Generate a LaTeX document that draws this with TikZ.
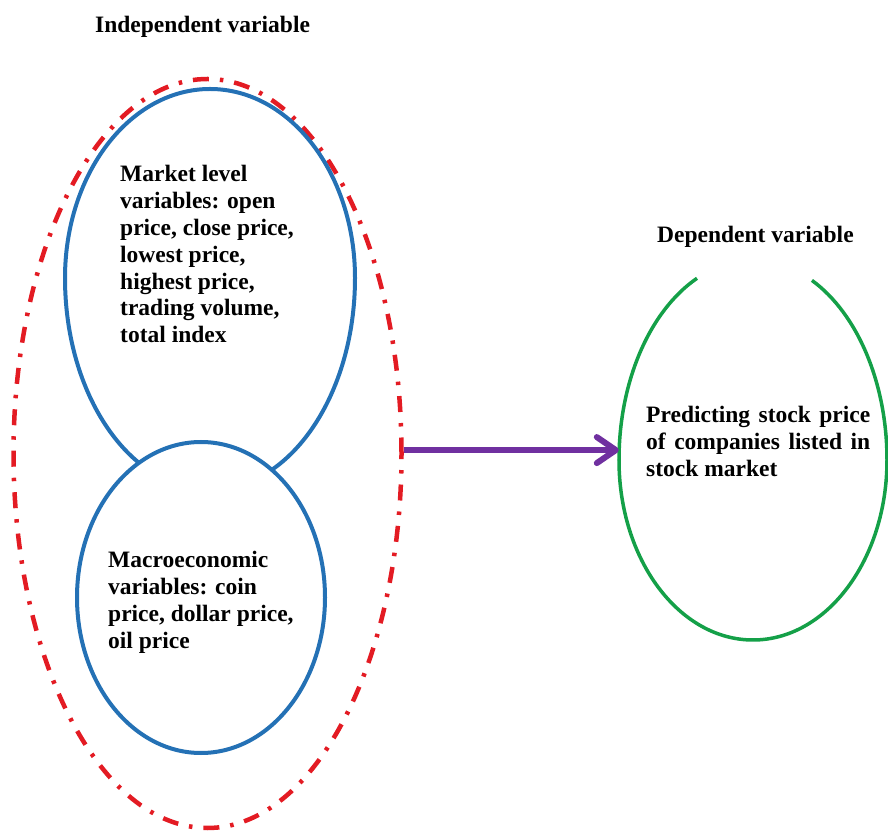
\documentclass[tikz,border=0pt]{standalone}
\usepackage{fontspec}
\setmainfont{Liberation Serif}
\usetikzlibrary{shapes.geometric,arrows.meta}
\definecolor{redc}{HTML}{E31B23}
\definecolor{bluec}{HTML}{2471B5}
\definecolor{greenc}{HTML}{14A048}
\definecolor{purplec}{HTML}{7030A0}
\begin{document}
\begin{tikzpicture}[x=1pt,y=1pt,
  lbl/.style={inner sep=0pt, anchor=base west, font=\fontsize{23.5}{26.8}\selectfont\bfseries},
  blueline/.style={draw=bluec, line width=4pt},
  greenline/.style={draw=greenc, line width=3.5pt},
  redoval/.style={ellipse, draw=redc, line width=4.5pt, dash pattern=on 16pt off 11pt on 3.5pt off 11pt, inner sep=0pt},
  arrowline/.style={draw=purplec, line width=6pt, -{Straight Barb[length=19pt,width=26pt,round]}}]
\useasboundingbox (0,0) rectangle (888,830);
% outer red dash-dot ellipse
\node[redoval, minimum width=388pt, minimum height=749pt] (indep) at (207.5,376.5) {};
% upper blue ellipse
\draw[blueline] (65,552) arc[start angle=180,end angle=0,x radius=145,y radius=189]
  arc[start angle=0,end angle=-180,x radius=145,y radius=212];
% lower blue ellipse
\node[ellipse, draw=bluec, fill=white, line width=4pt, minimum width=248pt, minimum height=311pt, inner sep=0pt] (macro) at (201,232.5) {};
% green ellipse (open at top)
\node[ellipse, minimum width=268pt, minimum height=380pt, inner sep=0pt] (dep) at (753,370) {};
\draw[greenline] (697,551.7) arc[start angle=114.7,end angle=180,x radius=134,y radius=200]
  arc[start angle=180,end angle=360,x radius=134,y radius=180]
  arc[start angle=0,end angle=63.9,x radius=134,y radius=200];
% arrow
\draw[arrowline] (indep.1) -- (indep.1 -| dep.west);
% texts
\node[lbl] (tindep) at (95,797) {Independent variable};
\node[lbl] (tdep) at (657,587) {Dependent variable};
\node[lbl] (tmarket) at (120,648) {\begin{tabular}[t]{@{}l@{}}Market level\\variables: open\\price, close price,\\lowest price,\\highest price,\\trading volume,\\total index\end{tabular}};
\node[lbl] (tmacro) at (108,262) {\begin{tabular}[t]{@{}l@{}}Macroeconomic\\variables: coin\\price, dollar price,\\oil price\end{tabular}};
\node[lbl] (tpred) at (646,407) {\begin{tabular}[t]{@{}l@{}}\makebox[224pt][s]{Predicting stock price}\\\makebox[224pt][s]{of companies listed in}\\stock market\end{tabular}};
\end{tikzpicture}
\end{document}
